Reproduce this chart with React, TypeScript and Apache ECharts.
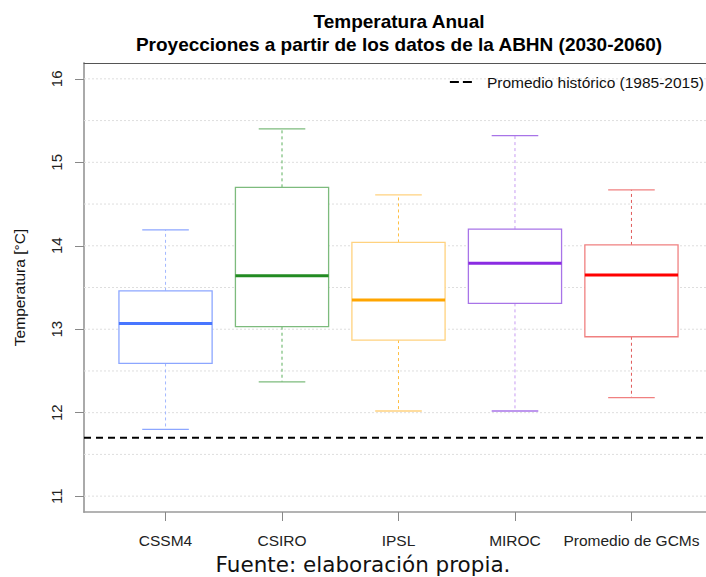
import React, { useEffect, useRef } from "react";
import * as echarts from "echarts";

const categories = ["CSSM4", "CSIRO", "IPSL", "MIROC", "Promedio de GCMs"];
const whiskerLow = [11.8, 12.37, 12.02, 12.02, 12.18];
const q1 = [12.59, 13.03, 12.87, 13.31, 12.91];
const median = [13.07, 13.64, 13.35, 13.79, 13.65];
const q3 = [13.46, 14.7, 14.04, 14.2, 14.01];
const whiskerHigh = [14.19, 15.4, 14.61, 15.32, 14.67];
const historical = 11.7;
const historicalLabel = "Promedio histórico (1985-2015)";
const yTickValues = [11, 12, 13, 14, 15, 16];
const gridValues = [11, 11.5, 12, 12.5, 13, 13.5, 14, 14.5, 15, 15.5, 16];

const medianColors = ["#4876FF", "#228B22", "#FFA500", "#8A2BE2", "#FF0000"];
const boxColors = ["#8CA6FF", "#7DBB7D", "#FFD27F", "#A874E8", "#F08080"];
const whiskerColors = ["#A3B8FF", "#5CAF5C", "#FFBF40", "#C79CF2", "#E05858"];

const X_MIN = 0.3;
const X_MAX = 5.64;
const Y_MIN = 10.81;
const Y_MAX = 16.19;
const FONT = "'Liberation Sans', Arial, sans-serif";

export default function App() {
  const ref = useRef<HTMLDivElement>(null);
  useEffect(() => {
    if (!ref.current) return;
    const chart = echarts.init(ref.current, null, { renderer: "svg" });
    const boxData = categories.map((_, i) => [
      i + 1,
      whiskerLow[i],
      q1[i],
      median[i],
      q3[i],
      whiskerHigh[i],
    ]);
    chart.setOption({
      animation: false,
      backgroundColor: "#ffffff",
      title: {
        text: "Temperatura Anual\nProyecciones a partir de los datos de la ABHN (2030-2060)",
        left: 394,
        textAlign: "center",
        top: 5,
        textStyle: {
          fontFamily: FONT,
          fontWeight: "bold",
          fontSize: 19,
          lineHeight: 23,
          color: "#000",
        },
      },
      legend: {
        data: [
          {
            name: historicalLabel,
            icon: "path://M0,0h9v2h-9zM13,0h9v2h-9z",
          },
        ],
        right: 2,
        top: 74,
        padding: 0,
        itemWidth: 22,
        itemHeight: 2,
        itemGap: 10,
        textStyle: { fontFamily: FONT, fontSize: 15.5, color: "#111", padding: [0, 0, 0, 10] },
      },
      grid: { left: 84, right: 0, top: 63, bottom: 65, containLabel: false },
      xAxis: [
        {
          type: "value",
          min: X_MIN,
          max: X_MAX,
          splitLine: { show: false },
          axisLine: { show: true, lineStyle: { color: "#9a9a9a", width: 1.5 } },
          axisTick: {
            show: true,
            customValues: [1, 2, 3, 4, 5],
            length: 9,
            lineStyle: { color: "#888" },
          },
          axisLabel: {
            customValues: [1, 2, 3, 4, 5],
            formatter: (v: number) => categories[Math.round(v) - 1] ?? "",
            fontFamily: FONT,
            fontSize: 15.5,
            color: "#222",
            margin: 20,
          },
        },
        {
          type: "value",
          position: "top",
          min: X_MIN,
          max: X_MAX,
          splitLine: { show: false },
          axisLine: { show: true, lineStyle: { color: "#555", width: 1 } },
          axisTick: { show: false },
          axisLabel: { show: false },
        },
      ],
      yAxis: {
        type: "value",
        min: Y_MIN,
        max: Y_MAX,
        splitLine: { show: false },
        axisLine: { show: true, lineStyle: { color: "#aaa", width: 2 } },
        axisTick: {
          show: true,
          customValues: yTickValues,
          length: 9,
          lineStyle: { color: "#888" },
        },
        axisLabel: {
          customValues: yTickValues,
          rotate: 90,
          fontFamily: FONT,
          fontSize: 15,
          color: "#222",
          margin: 20,
        },
        name: "Temperatura [°C]",
        nameLocation: "middle",
        nameGap: 57,
        nameTextStyle: { fontFamily: FONT, fontSize: 15.5, color: "#111" },
      },
      series: [
        {
          type: "custom",
          name: "grid",
          z: 1,
          silent: true,
          data: gridValues.map((v) => [v]),
          encode: { y: 0 },
          renderItem: (params: any, api: any) => {
            const v = api.value(0);
            const p1 = api.coord([X_MIN, v]);
            const p2 = api.coord([X_MAX, v]);
            return {
              type: "line",
              shape: { x1: p1[0], y1: p1[1], x2: p2[0], y2: p2[1] },
              style: { stroke: "#dedede", lineWidth: 1, lineDash: [2, 2] },
            };
          },
        },
        {
          type: "custom",
          name: "boxes",
          z: 3,
          data: boxData,
          encode: { x: 0, y: [1, 2, 3, 4, 5] },
          renderItem: (params: any, api: any) => {
            const i = params.dataIndex;
            const x = api.value(0);
            const lo = api.coord([x, api.value(1)]);
            const b1 = api.coord([x, api.value(2)]);
            const md = api.coord([x, api.value(3)]);
            const b3 = api.coord([x, api.value(4)]);
            const hi = api.coord([x, api.value(5)]);
            const w = api.size([0.8, 0])[0];
            const cw = api.size([0.4, 0])[0];
            const cx = lo[0];
            const wc = whiskerColors[i];
            return {
              type: "group",
              children: [
                {
                  type: "line",
                  shape: { x1: cx, y1: b3[1], x2: cx, y2: hi[1] },
                  style: { stroke: wc, lineWidth: 1, lineDash: [3, 3] },
                },
                {
                  type: "line",
                  shape: { x1: cx, y1: b1[1], x2: cx, y2: lo[1] },
                  style: { stroke: wc, lineWidth: 1, lineDash: [3, 3] },
                },
                {
                  type: "line",
                  shape: { x1: cx - cw / 2, y1: hi[1], x2: cx + cw / 2, y2: hi[1] },
                  style: { stroke: boxColors[i], lineWidth: 1.3 },
                },
                {
                  type: "line",
                  shape: { x1: cx - cw / 2, y1: lo[1], x2: cx + cw / 2, y2: lo[1] },
                  style: { stroke: boxColors[i], lineWidth: 1.3 },
                },
                {
                  type: "rect",
                  shape: { x: cx - w / 2, y: b3[1], width: w, height: b1[1] - b3[1] },
                  style: { fill: "#ffffff", stroke: boxColors[i], lineWidth: 1.3 },
                },
                {
                  type: "line",
                  shape: { x1: cx - w / 2, y1: md[1], x2: cx + w / 2, y2: md[1] },
                  style: { stroke: medianColors[i], lineWidth: 3 },
                },
              ],
            };
          },
        },
        {
          type: "line",
          name: historicalLabel,
          z: 4,
          symbol: "none",
          silent: true,
          color: "#000",
          itemStyle: { color: "#000" },
          lineStyle: { color: "#000", width: 2, type: [7, 5] },
          data: [
            [X_MIN, historical],
            [X_MAX, historical],
          ],
        },
      ],
      graphic: [
        {
          type: "text",
          x: 363,
          y: 564,
          style: {
            text: "Fuente: elaboración propia.",
            font: "21.5px 'DejaVu Sans', sans-serif",
            fill: "#111",
            textAlign: "center",
            textVerticalAlign: "middle",
          },
        },
      ],
    });
    return () => chart.dispose();
  }, []);
  return (
    <div
      ref={ref}
      style={{ position: "fixed", left: 0, top: 0, width: 706, height: 577 }}
    />
  );
}
